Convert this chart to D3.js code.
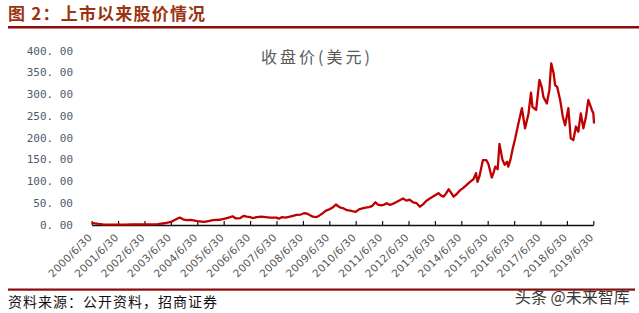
<!DOCTYPE html>
<html>
<head>
<meta charset="utf-8">
<script src="https://cdn.jsdelivr.net/npm/d3@7"></script>
<style>
  html, body { margin: 0; padding: 0; background: #fff; }
  svg { display: block; }
</style>
</head>
<body>
<div id="chart"></div>
<script>
// closing price
const dates = [
  "2000-06-30","2000-08-15","2000-10-01","2000-12-01","2001-03-01","2001-06-30","2001-10-01","2002-01-01",
  "2002-06-30","2002-10-01","2003-01-01","2003-04-01","2003-06-30","2003-08-15","2003-10-01","2003-11-01",
  "2003-12-15","2004-02-01","2004-04-01","2004-06-30","2004-09-30","2004-11-30","2005-01-31","2005-04-30",
  "2005-07-31","2005-09-30","2005-10-31","2005-12-15","2006-02-15","2006-04-01","2006-05-15","2006-06-30",
  "2006-08-01","2006-10-01","2006-12-01","2007-02-01","2007-04-01","2007-06-30","2007-08-01","2007-09-15",
  "2007-11-01","2008-01-01","2008-02-15","2008-04-01","2008-06-01","2008-07-15","2008-08-30","2008-10-01",
  "2008-11-15","2009-01-01","2009-02-15","2009-04-01","2009-05-15","2009-07-01","2009-08-15","2009-09-30",
  "2009-10-31","2009-12-01","2010-01-15","2010-03-01","2010-04-15","2010-06-01","2010-06-30","2010-08-15",
  "2010-10-01","2010-11-15","2011-01-01","2011-02-15","2011-03-31","2011-05-01","2011-06-15","2011-07-31",
  "2011-09-01","2011-10-15","2011-12-01","2012-01-15","2012-03-01","2012-04-15","2012-05-31","2012-07-15",
  "2012-09-01","2012-10-20","2012-12-05","2013-01-20","2013-03-01","2013-04-22","2013-06-10","2013-08-18",
  "2013-09-20","2013-10-27","2013-11-30","2014-01-05","2014-02-01","2014-03-15","2014-04-20","2014-06-15",
  "2014-07-20","2014-09-12","2014-10-20","2014-12-15","2015-01-20","2015-02-08","2015-03-10","2015-04-25",
  "2015-06-10","2015-07-10","2015-08-25","2015-09-20","2015-10-12","2015-11-15","2015-12-10","2016-01-20",
  "2016-02-20","2016-03-25","2016-04-10","2016-05-10","2016-06-10","2016-07-15","2016-08-28","2016-10-15",
  "2016-11-28","2017-01-15","2017-02-18","2017-03-10","2017-04-30","2017-06-15","2017-07-20","2017-08-08",
  "2017-09-25","2017-10-30","2017-11-25","2017-12-28","2018-01-18","2018-02-15","2018-03-28","2018-05-05",
  "2018-06-05","2018-07-20","2018-08-22","2018-09-27","2018-11-02","2018-12-05","2019-01-08","2019-02-13",
  "2019-03-20","2019-04-22","2019-06-10","2019-07-01","2019-07-10"
];
const closes = [
  5, 3.5, 2.5, 1.5, 1, 0.8, 1, 1.2,
  1.5, 1.3, 2, 4, 7, 11, 15, 17,
  13, 11, 12, 9, 7, 9, 11, 12,
  15, 18, 20, 15, 16, 21, 19, 18,
  16, 18, 19, 18, 17, 17, 14.5, 18,
  17, 19, 21, 23, 24, 27, 26, 23,
  19, 18, 22, 27, 33, 36, 40, 47,
  43, 40, 38, 34, 33, 31, 30, 36,
  38, 40, 41, 44, 52, 47, 45, 47,
  50, 46, 49, 53, 57, 61, 56, 58,
  52, 50, 42, 48, 55, 61, 66, 73,
  68, 65, 72, 82, 76, 65, 70, 80,
  84, 92, 98, 105, 119, 99, 113, 149,
  149, 140, 109, 120, 134, 128, 186, 150,
  138, 145, 134, 150, 175, 199, 233, 268,
  222, 256, 304, 271, 264, 333, 314, 294,
  279, 310, 371, 348, 321, 317, 287, 248,
  229, 268, 199, 195, 226, 214, 256, 222,
  248, 287, 264, 256, 233
];

const tickYears = d3.range(2000, 2020);
const yTicks = [0, 50, 100, 150, 200, 250, 300, 350, 400];

const W = 639, H = 313;
const parse = d3.timeParse("%Y-%m-%d");
const series = dates.map((d, i) => ({ date: parse(d), value: closes[i] }));

const svg = d3.select("#chart").append("svg")
  .attr("width", W)
  .attr("height", H)
  .attr("viewBox", [0, 0, W, H]);

const x = d3.scaleTime()
  .domain([new Date(2000, 5, 30), new Date(2019, 5, 30)])
  .range([91.7, 593.3]);

const y = d3.scaleLinear()
  .domain([0, 400])
  .range([225, 50.7]);

// heading
svg.append("text")
  .attr("x", 8)
  .attr("y", 20)
  .attr("fill", "#9a3412")
  .style("font-family", "'Noto Sans CJK SC'")
  .style("font-weight", "bold")
  .style("font-size", "17px")
  .style("letter-spacing", "1.2px")
  .text("图 2：上市以来股价情况");

svg.append("rect")
  .attr("x", 8).attr("y", 26)
  .attr("width", W - 8).attr("height", 2.5)
  .attr("fill", "#8b0a0a");

// chart title
svg.append("text")
  .attr("x", 317)
  .attr("y", 63)
  .attr("text-anchor", "middle")
  .attr("fill", "#595959")
  .style("font-family", "'Noto Sans CJK SC'")
  .style("font-size", "16px")
  .style("letter-spacing", "3px")
  .text("收盘价(美元)");

// y labels, no axis line
svg.append("g")
  .selectAll("text")
  .data(yTicks)
  .join("text")
  .attr("x", 73)
  .attr("y", d => y(d))
  .attr("dy", "0.35em")
  .attr("text-anchor", "end")
  .attr("fill", "#4e5a6e")
  .style("font-family", "'DejaVu Sans Mono'")
  .style("font-size", "11px")
  .text(d => d3.format(".2f")(d).replace(".", ". "));

// x axis
const xAxis = svg.append("g")
  .attr("transform", `translate(0, ${y(0)})`)
  .call(d3.axisBottom(x)
    .tickValues(tickYears.map(t => new Date(t, 5, 30)))
    .tickSizeInner(-4)
    .tickSizeOuter(0)
    .tickFormat(""));

xAxis.select(".domain").attr("stroke", "#111").attr("stroke-width", 1.4);
xAxis.selectAll(".tick line").attr("stroke", "#111").attr("stroke-width", 1.2);

svg.append("g")
  .selectAll("text")
  .data(tickYears)
  .join("text")
  .attr("transform", d => `translate(${x(new Date(d, 5, 30)) + 1}, 238) rotate(-45)`)
  .attr("text-anchor", "end")
  .attr("fill", "#555")
  .style("font-family", "'DejaVu Sans'")
  .style("font-size", "10.5px")
  .style("letter-spacing", "0.3px")
  .text(d => `${d}/6/30`);

// price line
const line = d3.line()
  .x(d => x(d.date))
  .y(d => y(d.value));

svg.append("path")
  .datum(series)
  .attr("fill", "none")
  .attr("stroke", "#c00000")
  .attr("stroke-width", 2.3)
  .attr("stroke-linejoin", "round")
  .attr("d", line);

// footer
svg.append("rect")
  .attr("x", 8).attr("y", 288.5)
  .attr("width", 627).attr("height", 2.2)
  .attr("fill", "#8b0a0a");

svg.append("text")
  .attr("x", 8)
  .attr("y", 307)
  .attr("fill", "#111")
  .style("font-family", "'Noto Sans CJK SC'")
  .style("font-size", "14px")
  .style("letter-spacing", "1px")
  .text("资料来源：公开资料，招商证券");

svg.append("text")
  .attr("x", 515)
  .attr("y", 303)
  .attr("fill", "#3a3a3a")
  .style("font-family", "'Noto Sans CJK SC'")
  .style("font-size", "16px")
  .text("头条 @未来智库");
</script>
</body>
</html>
